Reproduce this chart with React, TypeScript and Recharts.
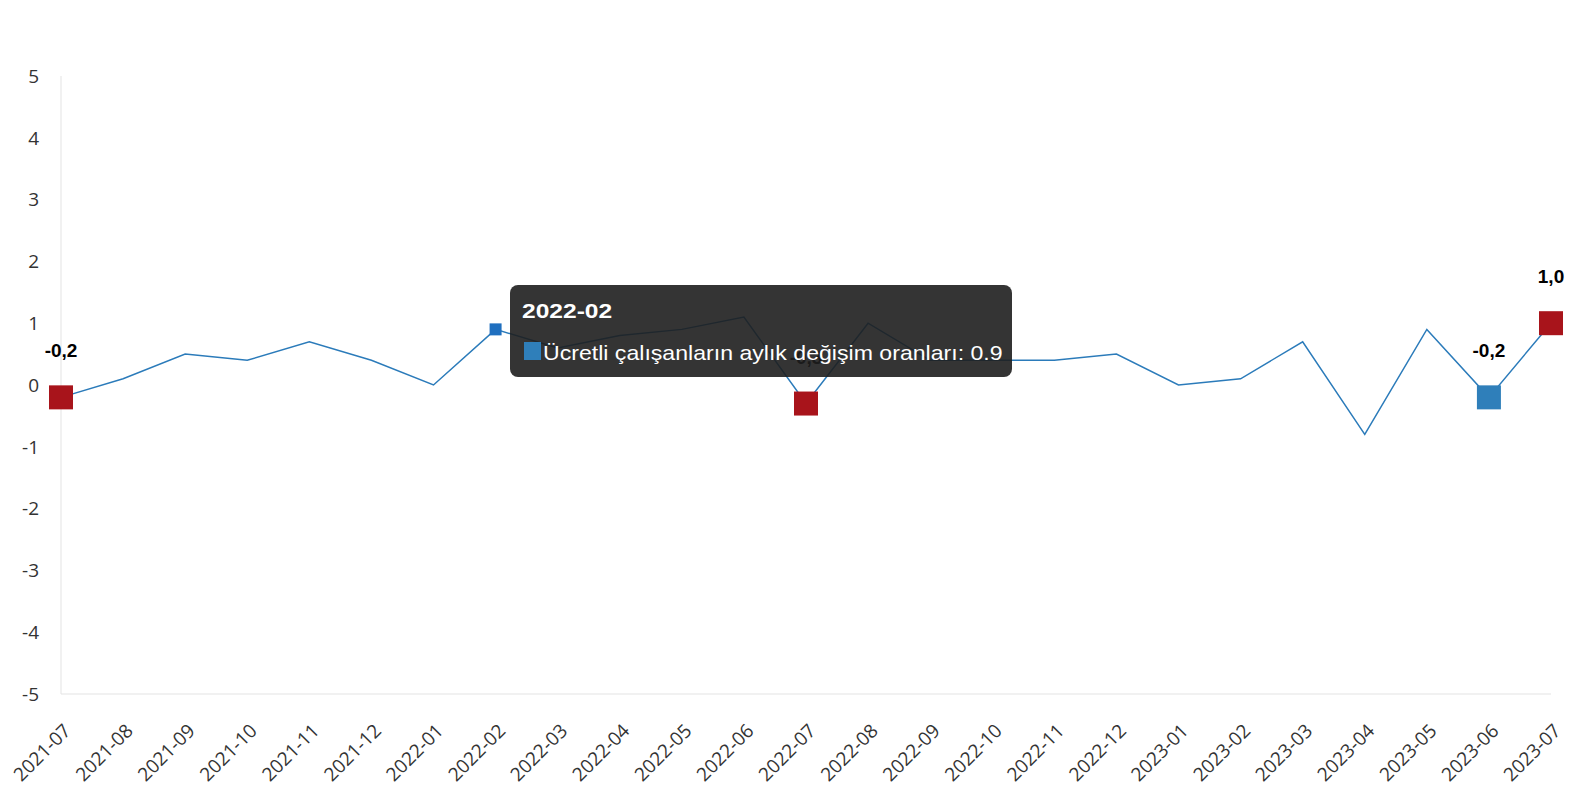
import { LineChart, Line, XAxis, YAxis, Tooltip, LabelList } from 'recharts';

const months = [
  '2021-07', '2021-08', '2021-09', '2021-10', '2021-11', '2021-12',
  '2022-01', '2022-02', '2022-03', '2022-04', '2022-05', '2022-06',
  '2022-07', '2022-08', '2022-09', '2022-10', '2022-11', '2022-12',
  '2023-01', '2023-02', '2023-03', '2023-04', '2023-05', '2023-06', '2023-07',
];
const rates = [
  -0.2, 0.1, 0.5, 0.4, 0.7, 0.4, 0.0, 0.9, 0.6, 0.8, 0.9, 1.1,
  -0.3, 1.0, 0.4, 0.4, 0.4, 0.5, 0.0, 0.1, 0.7, -0.8, 0.9, -0.2, 1.0,
];
const redMonths = ['2021-07', '2022-07', '2023-07'];
const blueMonths = ['2023-06'];
const yTicks = [-5, -4, -3, -2, -1, 0, 1, 2, 3, 4, 5];

const seriesName = 'Ücretli çalışanların aylık değişim oranları';
const data = months.map((m, i) => ({ month: m, value: rates[i] }));

const RED = '#a8141b';
const BLUE = '#2f7fba';
const LINE = '#2b7bba';

function Marker(props: any) {
  const { cx, cy, payload } = props;
  if (cx == null || cy == null) return null;
  let fill = '';
  if (redMonths.includes(payload.month)) fill = RED;
  else if (blueMonths.includes(payload.month)) fill = BLUE;
  if (!fill) return <g key={payload.month} />;
  return <rect key={payload.month} x={cx - 12} y={cy - 12} width={24} height={24} fill={fill} />;
}

function ActiveMarker(props: any) {
  const { cx, cy } = props;
  return <rect x={cx - 6} y={cy - 6} width={12} height={12} fill="#1f6fbf" />;
}

function PointLabel(props: any) {
  const { x, y, value, index } = props;
  const m = months[index];
  if (!redMonths.includes(m) && !blueMonths.includes(m)) return null;
  return (
    <text x={x} y={y - 40} textAnchor="middle" fontFamily="Liberation Sans, Arial, sans-serif"
      fontSize={19} fontWeight="bold" fill="#000">
      {value.toFixed(1).replace('.', ',')}
    </text>
  );
}

function MonthTick(props: any) {
  const { x, y, payload } = props;
  return (
    <text transform={`translate(${x + 11},${y + 38}) rotate(-45)`} textAnchor="end"
      fontFamily="Open Sans, sans-serif" fontSize={19} fill="#333">
      {payload.value}
    </text>
  );
}

function TipBox(props: any) {
  const { active, payload, label } = props;
  if (!active || !payload || !payload.length) return null;
  return (
    <div style={{
      position: 'relative', width: 502, height: 92, boxSizing: 'border-box',
      background: 'rgba(30,30,30,0.9)', borderRadius: 8, color: '#fff',
      fontFamily: 'Liberation Sans, Arial, sans-serif',
    }}>
      <div style={{
        position: 'absolute', left: 12, top: 15, fontSize: 21, lineHeight: '21px', fontWeight: 'bold',
        transform: 'scaleX(1.17)', transformOrigin: 'left center',
      }}>
        {label}
      </div>
      <div style={{ position: 'absolute', left: 14, top: 57, width: 17, height: 18, background: BLUE }} />
      <div style={{
        position: 'absolute', left: 33, top: 57, fontSize: 21, lineHeight: '21px', whiteSpace: 'nowrap',
        transform: 'scaleX(1.1)', transformOrigin: 'left center',
      }}>
        {seriesName}: {payload[0].value}
      </div>
    </div>
  );
}

export default function App() {
  return (
    <LineChart width={1560} height={784} data={data}
      margin={{ top: 68, right: 17, bottom: 12, left: 0 }}>
      <XAxis dataKey="month" stroke="#e3e3e3" tickLine={false} tickSize={0} tickMargin={0}
        interval={0} height={86} tick={<MonthTick />} />
      <YAxis domain={[-5, 5]} ticks={yTicks} width={53} stroke="#e3e3e3" tickLine={false}
        tickSize={0} tickMargin={22} interval={0}
        tick={{ fill: '#333', fontSize: 19, fontFamily: 'Open Sans, sans-serif' }} />
      <Tooltip defaultIndex={7} active={true} cursor={false} position={{ x: 502, y: 277 }}
        isAnimationActive={false} content={<TipBox />} />
      <Line dataKey="value" name={seriesName} stroke={LINE} strokeWidth={1.5}
        dot={<Marker />} activeDot={<ActiveMarker />} isAnimationActive={false}>
        <LabelList dataKey="value" content={<PointLabel />} />
      </Line>
    </LineChart>
  );
}
